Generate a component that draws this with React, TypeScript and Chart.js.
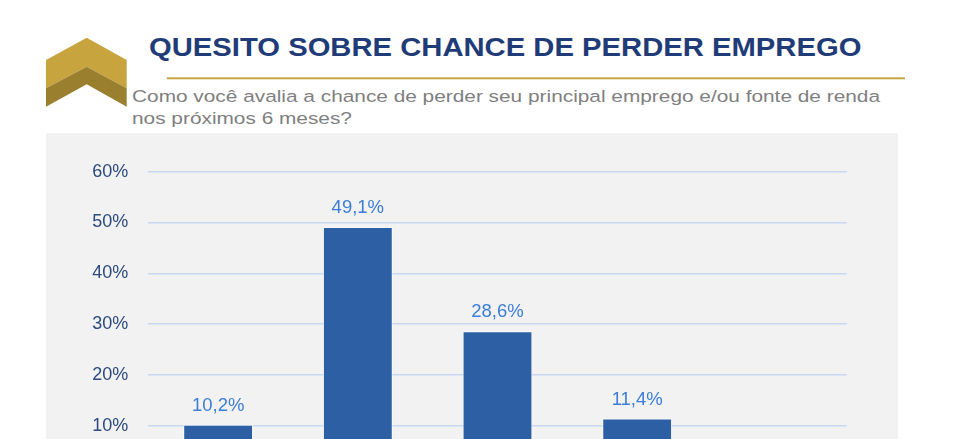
import React, { useEffect, useRef } from "react";
import { Chart, registerables } from "chart.js";

Chart.register(...registerables);

// data (last category sits below the visible crop)
const categories = ["Muito baixa", "Baixa", "Alta", "Muito alta", "Não sabe"];
const values = [10.2, 49.1, 28.6, 11.4, 0.7];
const yTicks = [0, 10, 20, 30, 40, 50, 60];

const FONT = '"Liberation Sans", Arial, sans-serif';

// measure text so it can be stretched to the width it has on the slide
const measure = (text: string, font: string) => {
  const c = document.createElement("canvas").getContext("2d");
  if (!c) return 1;
  c.font = font;
  return c.measureText(text).width;
};

const FitText: React.FC<{
  text: string;
  left: number;
  capTop: number;
  size: number;
  width: number;
  color: string;
  bold?: boolean;
  scaleFrom?: string;
}> = ({ text, left, capTop, size, width, color, bold, scaleFrom }) => {
  const font = `${bold ? "bold " : ""}${size}px ${FONT}`;
  const natural = measure(scaleFrom || text, font);
  const sx = width / natural;
  return (
    <div
      style={{
        position: "absolute",
        left,
        top: capTop - 0.1305 * size,
        fontFamily: FONT,
        fontSize: size,
        fontWeight: bold ? "bold" : "normal",
        lineHeight: `${size}px`,
        color,
        whiteSpace: "nowrap",
        transform: `scaleX(${sx})`,
        transformOrigin: "left top",
      }}
    >
      {text}
    </div>
  );
};

const valueLabels = {
  id: "valueLabels",
  afterDatasetsDraw(chart: Chart) {
    const { ctx } = chart;
    const meta = chart.getDatasetMeta(0);
    ctx.save();
    ctx.font = `18.5px ${FONT}`;
    ctx.fillStyle = "#3B7DD8";
    ctx.textAlign = "center";
    ctx.textBaseline = "alphabetic";
    meta.data.forEach((bar: any, i: number) => {
      const label = values[i].toFixed(1).replace(".", ",") + "%";
      ctx.fillText(label, bar.x, bar.y - 14);
    });
    ctx.restore();
  },
};

const BarChart: React.FC = () => {
  const canvasRef = useRef<HTMLCanvasElement>(null);

  useEffect(() => {
    const ctx = canvasRef.current?.getContext("2d");
    if (!ctx) return;
    const chart = new Chart(ctx, {
      type: "bar",
      data: {
        labels: categories,
        datasets: [
          {
            data: values,
            backgroundColor: "#2C5FA3",
            borderColor: "rgba(255,255,255,0.7)",
            borderWidth: 1,
            barPercentage: 0.5,
            categoryPercentage: 1,
          },
        ],
      },
      options: {
        responsive: true,
        maintainAspectRatio: false,
        animation: false,
        layout: { padding: { top: 38.7, right: 50.3, left: 0, bottom: 0 } },
        plugins: { legend: { display: false }, tooltip: { enabled: false } },
        scales: {
          x: {
            grid: { display: false },
            border: { display: false },
            ticks: { color: "#2B4A7E", font: { family: FONT, size: 18 } },
            afterFit: (s: any) => {
              s.height = 56.5;
            },
          },
          y: {
            min: 0,
            max: 60,
            afterBuildTicks: (s: any) => {
              s.ticks = yTicks.map((v) => ({ value: v }));
            },
            grid: { color: "#C6D9F1", lineWidth: 1.5, drawTicks: false },
            border: { display: false },
            ticks: {
              padding: 20,
              color: "#2B4A7E",
              font: { family: FONT, size: 18 },
              callback: (v: any) => v + "%",
            },
            afterFit: (s: any) => {
              s.width = 102.3;
            },
          },
        },
      },
      plugins: [valueLabels],
    });
    return () => chart.destroy();
  }, []);

  return (
    <div style={{ position: "relative", width: 851, height: 400 }}>
      <canvas ref={canvasRef}></canvas>
    </div>
  );
};

const App: React.FC = () => {
  return (
    <div
      style={{
        position: "fixed",
        left: 0,
        top: 0,
        width: 971,
        height: 439,
        overflow: "hidden",
        background: "#ffffff",
      }}
    >
      <svg
        width={971}
        height={439}
        style={{ position: "absolute", left: 0, top: 0 }}
      >
        <polygon
          points="46,60 86.7,37.7 126.7,60 126.7,88.3 86.7,66.7 46,88.3"
          fill="#C8A43E"
        />
        <polygon
          points="46,88.3 86.7,66.7 126.7,88.3 126.7,106.7 86.7,84.3 46,106.7"
          fill="#9A7F2F"
        />
        <rect x={166.7} y={77.3} width={738.3} height={2} fill="#C9A642" />
      </svg>
      <FitText
        text="QUESITO SOBRE CHANCE DE PERDER EMPREGO"
        left={149.3}
        capTop={37.7}
        size={26.5}
        width={712.4}
        color="#1F3C78"
        bold
      />
      <FitText
        text="Como você avalia a chance de perder seu principal emprego e/ou fonte de renda"
        left={131.7}
        capTop={90}
        size={17.2}
        width={748}
        color="#7F7F7F"
      />
      <FitText
        text="nos próximos 6 meses?"
        left={131.7}
        capTop={112.3}
        size={17.2}
        width={748}
        color="#7F7F7F"
        scaleFrom="Como você avalia a chance de perder seu principal emprego e/ou fonte de renda"
      />
      <div
        style={{
          position: "absolute",
          left: 46,
          top: 133,
          width: 851.7,
          height: 400,
          background: "#F2F2F2",
        }}
      >
        <BarChart />
      </div>
    </div>
  );
};

export default App;
